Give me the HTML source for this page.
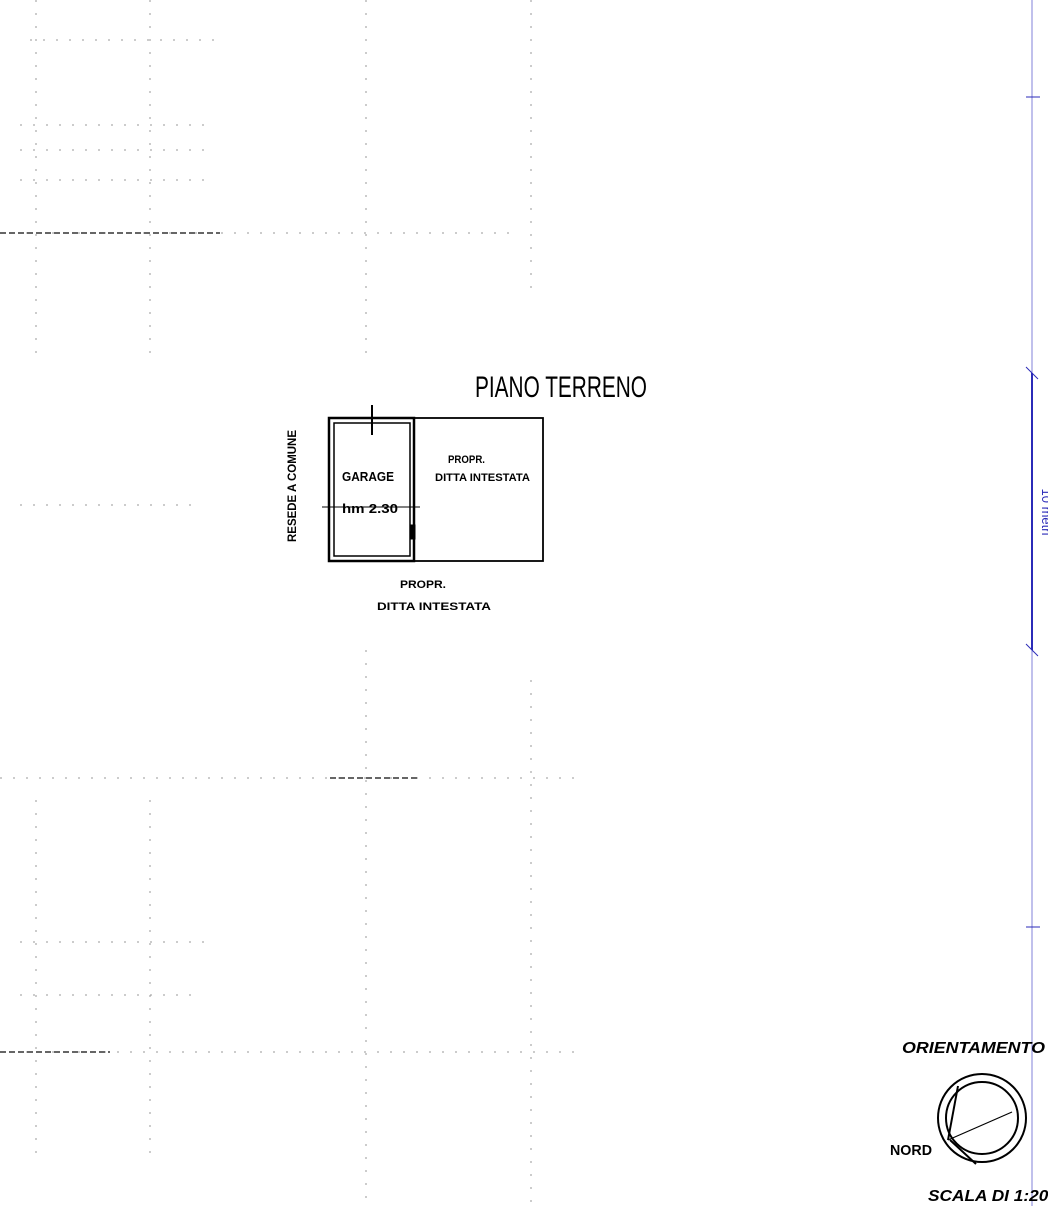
<!DOCTYPE html>
<html><head><meta charset="utf-8"><style>
html,body{margin:0;padding:0;background:#fff;width:1048px;height:1206px;overflow:hidden}
svg{display:block}
text{font-family:"Liberation Sans",sans-serif}
</style></head><body>
<svg width="1048" height="1206" viewBox="0 0 1048 1206">
<g stroke="#999" stroke-width="1" stroke-dasharray="2 11" fill="none">
<line x1="366" y1="0" x2="366" y2="360"/>
<line x1="531" y1="0" x2="531" y2="290"/>
<line x1="531" y1="680" x2="531" y2="1206"/>
<line x1="366" y1="650" x2="366" y2="1206"/>
<line x1="0" y1="233" x2="520" y2="233"/>
<line x1="0" y1="778" x2="585" y2="778"/>
<line x1="0" y1="1052" x2="580" y2="1052"/>
<line x1="20" y1="505" x2="200" y2="505"/>
<line x1="20" y1="942" x2="210" y2="942"/>
<line x1="20" y1="995" x2="200" y2="995"/>
<line x1="20" y1="180" x2="210" y2="180"/>
<line x1="20" y1="150" x2="210" y2="150"/>
<line x1="20" y1="125" x2="210" y2="125"/>
<line x1="30" y1="40" x2="215" y2="40"/>
<line x1="36" y1="0" x2="36" y2="360"/>
<line x1="36" y1="800" x2="36" y2="1160"/>
<line x1="150" y1="800" x2="150" y2="1160"/>
<line x1="150" y1="0" x2="150" y2="360"/>
</g>
<g stroke="#333" stroke-width="1.5" stroke-dasharray="6 3">
<line x1="0" y1="233" x2="220" y2="233"/>
<line x1="330" y1="778" x2="420" y2="778"/>
<line x1="0" y1="1052" x2="110" y2="1052"/>
</g>
<g stroke="#2b2bb8" fill="none">
<line x1="1032" y1="0" x2="1032" y2="1206" stroke-width="1" stroke="#8080d8"/>
<line x1="1032" y1="373" x2="1032" y2="650" stroke-width="2"/>
<line x1="1026" y1="97" x2="1040" y2="97"/>
<line x1="1026" y1="927" x2="1040" y2="927"/>
<line x1="1026" y1="367" x2="1038" y2="379"/>
<line x1="1026" y1="644" x2="1038" y2="656"/>
</g>
<text x="1042" y="512" fill="#2b2bb8" font-size="13" transform="rotate(90 1042 512)" text-anchor="middle" font-family="Liberation Serif,serif">10 metri</text>
<g stroke="#000" fill="none">
<rect x="329" y="418" width="85" height="143" stroke-width="2.5"/>
<rect x="334" y="423" width="76" height="133" stroke-width="1.5"/>
<rect x="414" y="418" width="129" height="143" stroke-width="1.8"/>
<line x1="372" y1="405" x2="372" y2="435" stroke-width="2"/>
<line x1="322" y1="507" x2="420" y2="507" stroke-width="1"/>
<rect x="410" y="525" width="5" height="14" fill="#000"/>
</g>
<text x="475" y="397" font-size="30" textLength="172" lengthAdjust="spacingAndGlyphs">PIANO TERRENO</text>
<text x="342" y="481" font-size="13" font-weight="bold" textLength="52" lengthAdjust="spacingAndGlyphs">GARAGE</text>
<text x="342" y="513" font-size="13" font-weight="bold" textLength="56" lengthAdjust="spacingAndGlyphs">hm 2.30</text>
<text x="448" y="463" font-size="11" font-weight="bold" textLength="37" lengthAdjust="spacingAndGlyphs">PROPR.</text>
<text x="435" y="481" font-size="11" font-weight="bold" textLength="95" lengthAdjust="spacingAndGlyphs">DITTA INTESTATA</text>
<text x="400" y="588" font-size="11" font-weight="bold" textLength="46" lengthAdjust="spacingAndGlyphs">PROPR.</text>
<text x="377" y="610" font-size="11" font-weight="bold" textLength="114" lengthAdjust="spacingAndGlyphs">DITTA INTESTATA</text>
<text x="296" y="542" font-size="12" font-weight="bold" transform="rotate(-90 296 542)" textLength="112" lengthAdjust="spacingAndGlyphs">RESEDE A COMUNE</text>
<text x="902" y="1053" font-size="16" font-weight="bold" font-style="italic" textLength="143" lengthAdjust="spacingAndGlyphs">ORIENTAMENTO</text>
<g stroke="#000" fill="none" stroke-width="2">
<circle cx="982" cy="1118" r="44"/>
<circle cx="982" cy="1118" r="36"/>
<line x1="958" y1="1086" x2="948" y2="1140"/>
<line x1="948" y1="1140" x2="1012" y2="1112" stroke-width="1.2"/>
<line x1="950" y1="1140" x2="976" y2="1164"/>
</g>
<text x="890" y="1155" font-size="15" font-weight="bold" textLength="42" lengthAdjust="spacingAndGlyphs">NORD</text>
<text x="928" y="1201" font-size="16" font-weight="bold" font-style="italic" textLength="130" lengthAdjust="spacingAndGlyphs">SCALA DI 1:200</text>
</svg>
</body></html>
